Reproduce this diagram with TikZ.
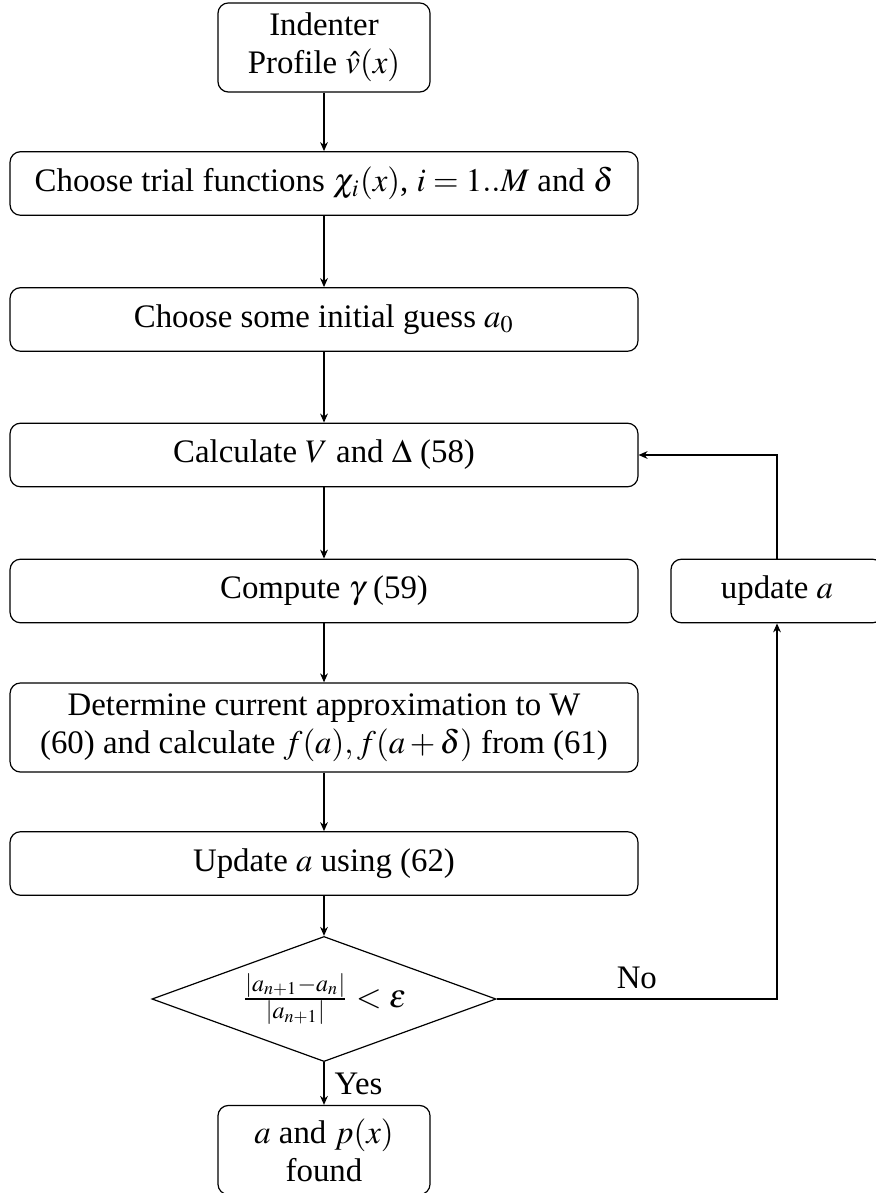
\documentclass[tikz,border=0pt]{standalone}
\usepackage{mathptmx}
\usepackage{fontspec}
\setmainfont{Liberation Serif}
\usetikzlibrary{shapes.geometric,arrows.meta}
\begin{document}
\begin{tikzpicture}[x={(0.33333pt,0)},y={(0,-0.33333pt)},
  every node/.style={font=\fontsize{10.95}{12.7}\selectfont},
  box/.style={draw, rounded corners=3.5pt, align=center, inner sep=3.3pt, minimum height=21.2pt, line width=0.4pt},
  wide/.style={box, minimum width=209.3pt},
  small/.style={box, minimum width=70.7pt},
  tall/.style={minimum height=29.7pt},
  decision/.style={draw, diamond, aspect=2.75, inner sep=0pt, minimum width=114.7pt, minimum height=41.7pt, line width=0.4pt},
  arr/.style={-{Stealth[length=3pt,width=2.6pt]}, line width=0.4pt}]
\useasboundingbox (0,0) rectangle (875,1193);
\node[small, tall] (b1) at (324,47.5) {Indenter\\Profile $\hat{v}(x)$};
\node[wide] (b2) at (324,183.5) {Choose trial functions $\chi_i(x)$, $i=1..M$ and $\delta$};
\node[wide] (b3) at (324,319.5) {Choose some initial guess $a_0$};
\node[wide] (b4) at (324,455) {Calculate $V$ and $\Delta$ (58)};
\node[wide] (b5) at (324,591) {Compute $\gamma$ (59)};
\node[small] (upd) at (777,591) {update $a$};
\node[wide, tall] (b6) at (324,727.5) {Determine current approximation to W\\(60) and calculate $f(a),f(a+\delta)$ from (61)};
\node[wide] (b7) at (324,863.5) {Update $a$ using (62)};
\node[decision] (dia) at (324,999) {$\frac{|a_{n+1}-a_n|}{|a_{n+1}|}<\varepsilon$};
\node[small, tall] (b8) at (324,1150) {$a$ and $p(x)$\\found};
\draw[arr] (b1) -- (b2);
\draw[arr] (b2) -- (b3);
\draw[arr] (b3) -- (b4);
\draw[arr] (b4) -- (b5);
\draw[arr] (b5) -- (b6);
\draw[arr] (b6) -- (b7);
\draw[arr] (b7) -- (dia);
\draw[arr] (dia) -- node[right] {Yes} (b8);
\draw[arr] (dia.east) -| node[pos=0.25, above] {No} (upd.south);
\draw[arr] (upd.north) |- (b4.east);
\end{tikzpicture}
\end{document}
